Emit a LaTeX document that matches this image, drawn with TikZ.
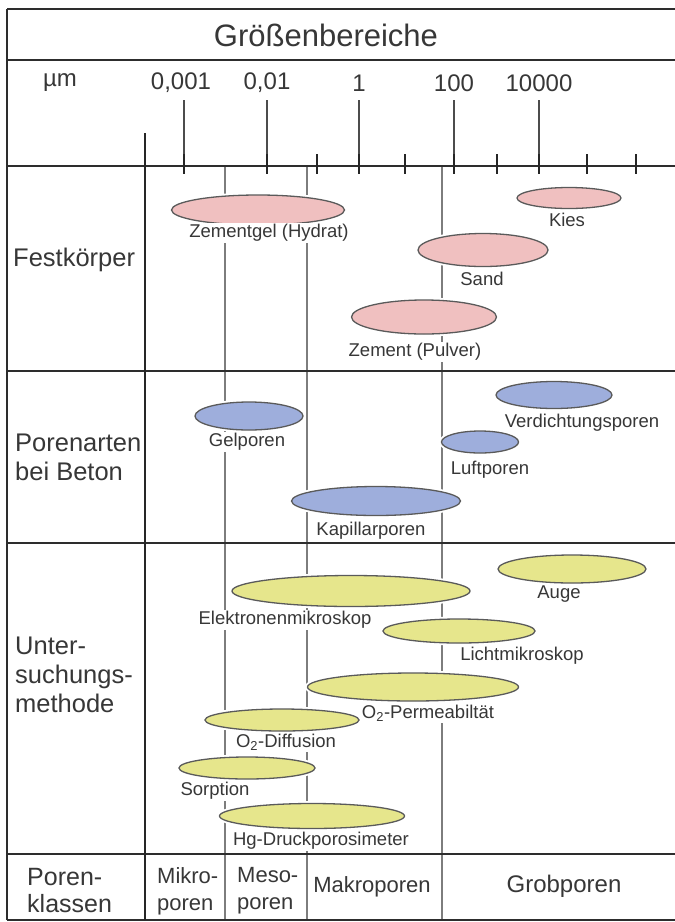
\documentclass[tikz,border=0pt]{standalone}
\usepackage{fontspec}
\setmainfont{Liberation Sans}
\usetikzlibrary{shapes.geometric}
\definecolor{pinkf}{RGB}{240,192,192}
\definecolor{bluef}{RGB}{158,174,220}
\definecolor{yellowf}{RGB}{230,230,140}
\definecolor{txt}{RGB}{55,55,55}
\definecolor{gridc}{RGB}{125,125,125}
\definecolor{framec}{RGB}{45,45,45}
\definecolor{edgec}{RGB}{90,90,90}
\begin{document}
\begin{tikzpicture}[x=1pt,y=-1pt,
  frameline/.style={draw=framec, line width=2.6pt},
  colline/.style={draw=black!85, line width=2pt},
  greyline/.style={draw=gridc, line width=1.4pt},
  tickmark/.style={draw=black!85, line width=2pt},
  longtick/.style={draw=black!70, line width=1.3pt},
  blob/.style={ellipse, draw=edgec, line width=1.3pt, inner sep=0pt,
    preaction={draw=white, line width=5pt}},
  pinkblob/.style={blob, fill=pinkf},
  blueblob/.style={blob, fill=bluef},
  yellowblob/.style={blob, fill=yellowf},
  lbl/.style={font=\fontsize{18.5}{20}\selectfont, text=txt, fill=white, inner sep=1.5pt},
  rowlbl/.style={font=\fontsize{25.5}{29}\selectfont, text=txt, align=left, anchor=west, inner sep=0pt},
  classlbl/.style={font=\fontsize{22}{27}\selectfont, text=txt, align=left, anchor=west, inner sep=0pt},
  scalelbl/.style={font=\fontsize{24}{28}\selectfont, text=txt, inner sep=0pt},
]
\useasboundingbox (0,0) rectangle (675,922);
\fill[white] (0,0) rectangle (675,922);

% pore class boundaries (grey)
\draw[greyline] (225,166) -- (225,920);
\draw[greyline] (307,166) -- (307,920);
\draw[greyline] (442,166) -- (442,920);

% frame
\draw[frameline] (7,9) -- (675,9);
\draw[frameline] (7,60) -- (675,60);
\draw[frameline] (7,166) -- (675,166);
\draw[frameline] (7,371) -- (675,371);
\draw[frameline] (7,543) -- (675,543);
\draw[frameline] (7,854) -- (675,854);
\draw[frameline] (7,920) -- (675,920);
\draw[frameline] (7,9) -- (7,920);
\draw[colline] (145,133) -- (145,920);

% scale ticks
\foreach \x in {184,267,359,454,539} {
  \draw[longtick] (\x,100) -- (\x,166);
  \draw[tickmark] (\x,154) -- (\x,174);
}
\foreach \x in {317,405,497,587,636} {
  \draw[tickmark] (\x,154) -- (\x,174);
}

% headings
\node[font=\fontsize{31}{34}\selectfont, text=txt] (title) at (326,35) {Größenbereiche};
\node[scalelbl] (um) at (60,83) {µm};
\node[scalelbl] (s1) at (181,83) {0,001};
\node[scalelbl] (s2) at (267,83) {0,01};
\node[scalelbl] (s3) at (359,83) {1};
\node[scalelbl] (s4) at (454,83) {100};
\node[scalelbl] (s5) at (539,83) {10000};

% row labels
\node[rowlbl] (fest) at (13,260) {Festkörper};
\node[rowlbl] (poren) at (15,457) {Porenarten\\bei Beton};
\node[rowlbl] (unter) at (15,675) {Unter-\\suchungs-\\methode};
\node[rowlbl, font=\fontsize{25}{27}\selectfont] (pkl) at (27,891) {Poren-\\klassen};
\node[classlbl] (mikro) at (157,891) {Mikro-\\poren};
\node[classlbl] (meso) at (237,891) {Meso-\\poren};
\node[font=\fontsize{22}{27}\selectfont, text=txt] (makro) at (372,887) {Makroporen};
\node[font=\fontsize{24}{27}\selectfont, text=txt] (grob) at (564,886) {Grobporen};

% Festkoerper
\node[pinkblob, minimum width=173pt, minimum height=30pt] (zg) at (258,210) {};
\node[lbl] (zgl) at (269,233) {Zementgel (Hydrat)};
\node[pinkblob, minimum width=104pt, minimum height=21pt] (kies) at (569,198) {};
\node[lbl] (kiesl) at (567,220) {Kies};
\node[pinkblob, minimum width=130pt, minimum height=33pt] (sand) at (483,250) {};
\node[lbl] (sandl) at (482,279) {Sand};
\node[pinkblob, minimum width=145pt, minimum height=34pt] (zem) at (424,317) {};
\node[lbl] (zeml) at (415,352) {Zement (Pulver)};

% Porenarten
\node[blueblob, minimum width=108pt, minimum height=28pt] (gel) at (249,416) {};
\node[lbl] (gell) at (247,442) {Gelporen};
\node[blueblob, minimum width=116pt, minimum height=27pt] (verd) at (554,395) {};
\node[lbl] (verdl) at (582,423) {Verdichtungsporen};
\node[blueblob, minimum width=77pt, minimum height=22pt] (luft) at (480,442) {};
\node[lbl] (luftl) at (490,470) {Luftporen};
\node[blueblob, minimum width=169pt, minimum height=29pt] (kap) at (376,501) {};
\node[lbl] (kapl) at (371,531) {Kapillarporen};

% Untersuchungsmethode
\node[yellowblob, minimum width=148pt, minimum height=28pt] (auge) at (572,569) {};
\node[lbl] (augel) at (559,594) {Auge};
\node[yellowblob, minimum width=238pt, minimum height=31pt] (elek) at (351,591) {};
\node[lbl] (elekl) at (285,620) {Elektronenmikroskop};
\node[yellowblob, minimum width=152pt, minimum height=24pt] (licht) at (459,631) {};
\node[lbl] (lichtl) at (522,656) {Lichtmikroskop};
\node[yellowblob, minimum width=211pt, minimum height=28pt] (perm) at (413,687) {};
\node[lbl] (perml) at (428,713) {O\textsubscript{2}-Permeabiltät};
\node[yellowblob, minimum width=154pt, minimum height=22pt] (diff) at (282,720) {};
\node[lbl] (diffl) at (286,742) {O\textsubscript{2}-Diffusion};
\node[yellowblob, minimum width=136pt, minimum height=22pt] (sorp) at (247,768) {};
\node[lbl] (sorpl) at (215,791) {Sorption};
\node[yellowblob, minimum width=185pt, minimum height=25pt] (hg) at (312,816) {};
\node[lbl] (hgl) at (321,841) {Hg-Druckporosimeter};
\end{tikzpicture}
\end{document}
